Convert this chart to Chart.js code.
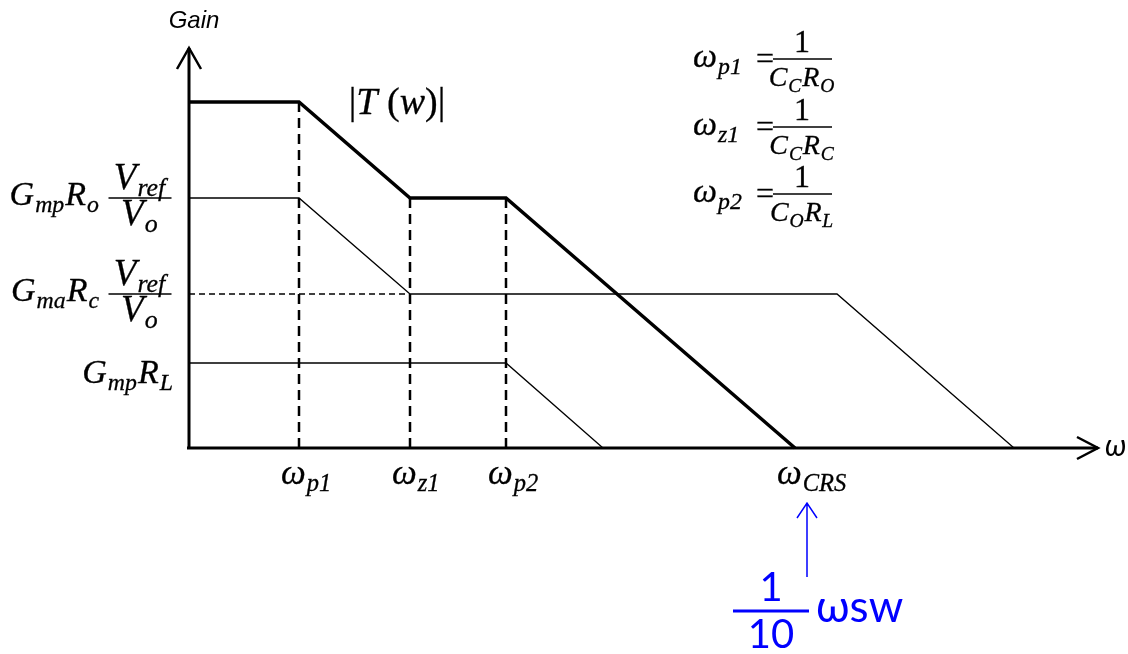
<!DOCTYPE html>
<html>
<head>
<meta charset="utf-8">
<script src="https://cdn.jsdelivr.net/npm/chart.js@4.4.1/dist/chart.umd.min.js"></script>
<style>
  html, body { margin: 0; padding: 0; background: #fff; }
  #wrap { width: 1128px; height: 654px; }
</style>
</head>
<body>
<div id="wrap"><canvas id="bodeChart"></canvas></div>
<script>
// corner frequencies on the (log) omega axis, arbitrary units
const cornerNames = [['ω', 'p1'], ['ω', 'z1'], ['ω', 'p2'], ['ω', 'CRS']];
const cornerX = [1.10, 2.21, 3.17, 6.06];

// |T(w)|, the overall gain
const loopX = [0, 1.10, 2.21, 3.17, 6.06];
const loopY = [3.46, 3.46, 2.50, 2.50, 0];

// Gmp*Ro*Vref/Vo branch
const roX = [0, 1.10, 2.21];
const roY = [2.50, 2.50, 1.54];

// Gma*Rc*Vref/Vo branch (dashed part up to wz1, then solid)
const rcDashX = [0, 2.21];
const rcDashY = [1.54, 1.54];
const rcX = [2.21, 6.48, 8.25];
const rcY = [1.54, 1.54, 0];

// Gmp*RL branch
const rlX = [0, 3.17, 4.14];
const rlY = [0.85, 0.85, 0];

// dashed drop lines under the first three corners
const dropTop = [3.46, 2.50, 2.50];

// gain levels named on the left
const levelY = [2.50, 1.54, 0.85];

const pts = (xs, ys) => xs.map((x, i) => ({ x: x, y: ys[i] }));

const MATH = '"Liberation Serif"';

// text with a hairline outline so the serif face looks a bit heavier
function heavyText(ctx, s, x, y) {
  ctx.fillText(s, x, y);
  ctx.lineWidth = 0.3;
  ctx.strokeText(s, x, y);
}

// draws a run like G_mp R_o; each piece is [text, subscript, upright?]
function mathWidth(ctx, parts, size) {
  let w = 0;
  parts.forEach(p => {
    ctx.font = (p[2] ? '' : 'italic ') + size + 'px ' + MATH;
    w += ctx.measureText(p[0]).width;
    if (p[1]) {
      ctx.font = 'italic ' + (size * 0.7) + 'px ' + MATH;
      w += ctx.measureText(p[1]).width + size * 0.06;
    }
  });
  return w;
}

function drawMath(ctx, parts, x, y, size, align) {
  const w = mathWidth(ctx, parts, size);
  let cx = x;
  if (align === 'right') cx = x - w;
  if (align === 'center') cx = x - w / 2;
  ctx.textAlign = 'left';
  ctx.textBaseline = 'alphabetic';
  parts.forEach(p => {
    ctx.font = (p[2] ? '' : 'italic ') + size + 'px ' + MATH;
    heavyText(ctx, p[0], cx, y);
    cx += ctx.measureText(p[0]).width;
    if (p[1]) {
      ctx.font = 'italic ' + (size * 0.7) + 'px ' + MATH;
      heavyText(ctx, p[1], cx + size * 0.03, y + size * 0.2);
      cx += ctx.measureText(p[1]).width + size * 0.06;
    }
  });
  return w;
}

function drawFrac(ctx, num, den, cx, barY, barW, size) {
  ctx.lineWidth = 1.5;
  ctx.beginPath();
  ctx.moveTo(cx - barW / 2, barY);
  ctx.lineTo(cx + barW / 2, barY);
  ctx.stroke();
  drawMath(ctx, num, cx, barY - 9, size, 'center');
  drawMath(ctx, den, cx, barY + 27, size, 'center');
}

const annotations = {
  id: 'annotations',
  afterDraw(chart) {
    const ctx = chart.ctx;
    const xs = chart.scales.x, ys = chart.scales.y;
    const x0 = xs.getPixelForValue(0), y0 = ys.getPixelForValue(0);
    ctx.save();
    ctx.strokeStyle = '#000';
    ctx.fillStyle = '#000';
    ctx.lineCap = 'butt';

    // axes with open arrow heads
    ctx.lineWidth = 3;
    ctx.beginPath();
    ctx.moveTo(x0 - 2, y0);
    ctx.lineTo(xs.right, y0);
    ctx.moveTo(x0, y0 + 1.5);
    ctx.lineTo(x0, ys.top);
    ctx.stroke();
    ctx.lineWidth = 2.5;
    ctx.beginPath();
    ctx.moveTo(xs.right - 21, y0 - 11);
    ctx.lineTo(xs.right, y0);
    ctx.lineTo(xs.right - 21, y0 + 11);
    ctx.moveTo(x0 - 12, ys.top + 21);
    ctx.lineTo(x0, ys.top);
    ctx.lineTo(x0 + 12, ys.top + 21);
    ctx.stroke();

    // axis titles
    ctx.font = 'italic 24px "Liberation Sans"';
    ctx.textAlign = 'center';
    ctx.fillText('Gain', x0 + 5, 28);
    ctx.textAlign = 'left';
    ctx.font = 'italic 30px Lato';
    ctx.fillText('ω', xs.right + 7, y0 + 8);

    // corner frequency labels under the axis
    cornerX.forEach((v, i) => {
      const px = xs.getPixelForValue(v);
      drawMath(ctx, [cornerNames[i]], px - 18, 484, 35, 'left');
    });

    // gain level labels left of the axis
    const lv = levelY.map(v => ys.getPixelForValue(v));
    drawMath(ctx, [['G', 'mp'], ['R', 'o']], 100, lv[0] + 7, 34, 'right');
    drawFrac(ctx, [['V', 'ref']], [['V', 'o']], 140, lv[0], 63, 37);
    drawMath(ctx, [['G', 'ma'], ['R', 'c']], 100, lv[1] + 7, 34, 'right');
    drawFrac(ctx, [['V', 'ref']], [['V', 'o']], 140, lv[1], 63, 37);
    drawMath(ctx, [['G', 'mp'], ['R', 'L']], 174, lv[2] + 20, 34, 'right');

    // |T(w)| tag
    drawMath(ctx, [['|', '', 1], ['T '], ['(', '', 1], ['w'], [')', '', 1], ['|', '', 1]], 397, 114, 38, 'center');

    // corner frequency definitions
    const defs = [
      [['ω', 'p1']], [['ω', 'z1']], [['ω', 'p2']]
    ];
    const dens = [
      [['C', 'C'], ['R', 'O']], [['C', 'C'], ['R', 'C']], [['C', 'O'], ['R', 'L']]
    ];
    [59, 127, 194].forEach((bar, i) => {
      drawMath(ctx, defs[i], 693, bar + 8, 34, 'left');
      ctx.font = '32px ' + MATH;
      ctx.textAlign = 'center';
      heavyText(ctx, '=', 765, bar + 10);
      heavyText(ctx, '1', 802, bar - 7);
      ctx.lineWidth = 1.5;
      ctx.beginPath();
      ctx.moveTo(773, bar);
      ctx.lineTo(832, bar);
      ctx.stroke();
      drawMath(ctx, dens[i], 802, bar + 27, 28, 'center');
    });

    // switching frequency note in blue
    const cx = xs.getPixelForValue(cornerX[3]) + 12;
    ctx.strokeStyle = '#0000ff';
    ctx.fillStyle = '#0000ff';
    ctx.lineWidth = 1.5;
    ctx.beginPath();
    ctx.moveTo(cx, 577);
    ctx.lineTo(cx, 503);
    ctx.moveTo(cx - 10, 518);
    ctx.lineTo(cx, 503);
    ctx.lineTo(cx + 10, 518);
    ctx.stroke();
    ctx.lineWidth = 3;
    ctx.beginPath();
    ctx.moveTo(733, 611);
    ctx.lineTo(809, 611);
    ctx.stroke();
    ctx.font = '40px Lato';
    ctx.textAlign = 'center';
    ctx.fillText('1', 771, 601);
    ctx.fillText('10', 771, 648);
    ctx.textAlign = 'left';
    ctx.font = '44px Lato';
    ctx.fillText('ωsw', 816, 622);
    ctx.restore();
  }
};

const thin = { borderColor: '#000', borderWidth: 1.3, pointRadius: 0, showLine: true, clip: false, tension: 0 };

const datasets = [
  Object.assign({}, thin, { label: 'Gmp Ro', data: pts(roX, roY) }),
  Object.assign({}, thin, { label: 'Gma Rc', data: pts(rcX, rcY) }),
  Object.assign({}, thin, { label: 'Gma Rc guide', data: pts(rcDashX, rcDashY), borderDash: [6, 4] }),
  Object.assign({}, thin, { label: 'Gmp RL', data: pts(rlX, rlY) })
];
cornerX.slice(0, 3).forEach((v, i) => {
  datasets.push(Object.assign({}, thin, {
    label: 'drop ' + i,
    data: [{ x: v, y: dropTop[i] }, { x: v, y: 0 }],
    borderWidth: 2.5,
    borderDash: [10, 6]
  }));
});
datasets.push(Object.assign({}, thin, { label: '|T(w)|', data: pts(loopX, loopY), borderWidth: 3.5 }));

new Chart(document.getElementById('bodeChart').getContext('2d'), {
  type: 'scatter',
  data: { datasets: datasets },
  options: {
    responsive: true,
    maintainAspectRatio: false,
    animation: false,
    layout: { padding: { left: 189, right: 30, top: 48, bottom: 206 } },
    plugins: { legend: { display: false }, tooltip: { enabled: false } },
    scales: {
      x: { type: 'linear', min: 0, max: 9.09, display: false },
      y: { type: 'linear', min: 0, max: 4, display: false }
    }
  },
  plugins: [annotations]
});
</script>
</body>
</html>
